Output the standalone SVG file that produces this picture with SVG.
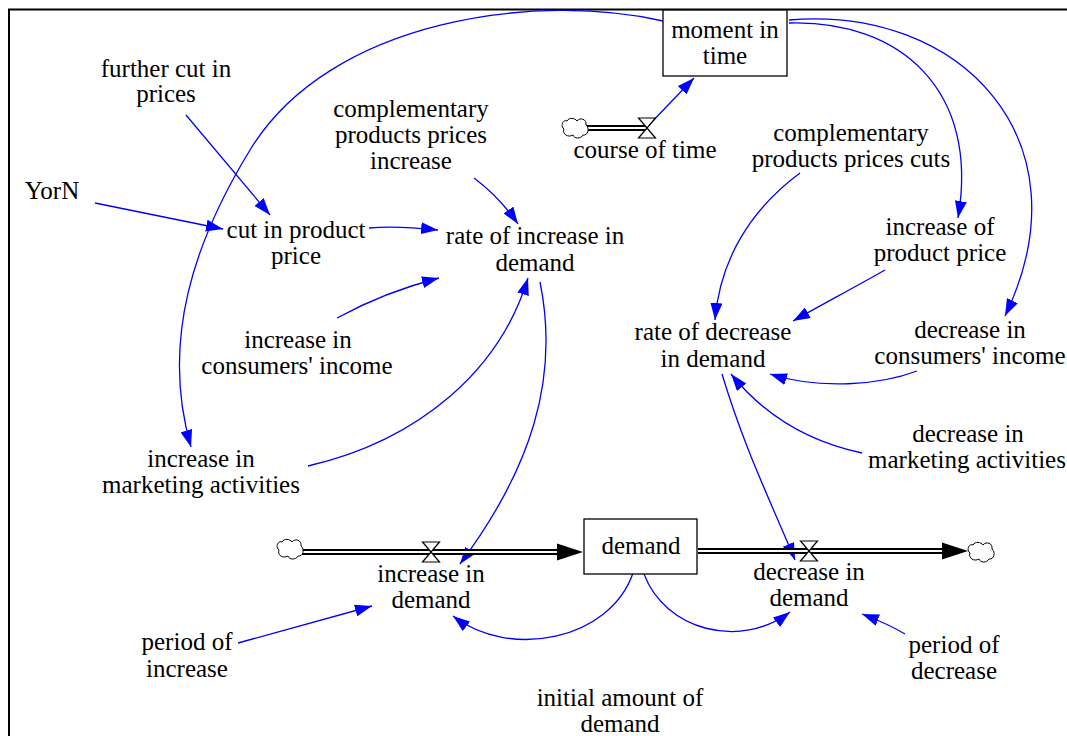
<svg xmlns="http://www.w3.org/2000/svg" width="1067" height="736" viewBox="0 0 1067 736">
<defs>
<style>
text{font-family:"Liberation Serif","Times New Roman",serif;font-size:25px;fill:#000;text-anchor:middle}
.c{fill:none;stroke:#0000FF;stroke-width:1.3;marker-end:url(#ah)}
.pipeO{stroke:#000;stroke-width:6;fill:none}
.pipeI{stroke:#fff;stroke-width:2;fill:none}
.box{fill:#fff;stroke:#000;stroke-width:1.3}
.valve{fill:#fff;stroke:#000;stroke-width:1.2}
.cloud{fill:#fff;stroke:#000;stroke-width:1}
</style>
<marker id="ah" markerUnits="userSpaceOnUse" markerWidth="17" markerHeight="12" viewBox="0 0 17 12" refX="17" refY="6" orient="auto"><path d="M0,0 L17,6 L0,12 z" fill="#0000FF"/></marker>
<marker id="fh" markerUnits="userSpaceOnUse" markerWidth="26" markerHeight="17" viewBox="0 0 26 17" refX="26" refY="8.5" orient="auto"><path d="M0,0 L26,8.5 L0,17 z" fill="#000"/></marker>
<symbol id="cloudSym" viewBox="-14 -11 28 22" width="28" height="22" overflow="visible">
<path class="cloud" d="M-8,-7 C-6,-11 0,-10 2,-7 C5,-11 12,-9 11,-3 C15,0 13,8 8,7 C6,11 -1,11 -2,7 C-7,10 -13,6 -11,1 C-15,-2 -12,-9 -8,-7 Z"/>
</symbol>
<path id="valveSym" class="valve" d="M-8.5,-10 H8.5 L-8.5,10 H8.5 Z"/>
</defs>
<rect x="0" y="0" width="1067" height="736" fill="#fff"/>
<path d="M9,736 V9.5 H1067" fill="none" stroke="#000" stroke-width="2"/>

<g id="connectors">
<path class="c" d="M663,21 C540,-8 330,18 250,150 C195,240 160,340 191,447"/>
<path class="c" d="M789,23 C900,20 980,90 958,218"/>
<path class="c" d="M789,20 C960,5 1090,140 1005,316"/>
<path class="c" d="M647,127 L694,78"/>
<path class="c" d="M186,115 L270,215"/>
<path class="c" d="M95,203 L223,229"/>
<path class="c" d="M474,178 C490,190 505,205 518,224"/>
<path class="c" d="M369,228 C390,226 410,227 438,230"/>
<path class="c" d="M337,318 C370,300 400,288 439,278"/>
<path class="c" d="M308,466 C420,440 500,370 528,278"/>
<path class="c" d="M540,282 C560,380 530,470 460,564"/>
<path class="c" d="M800,173 C750,210 720,260 715,320"/>
<path class="c" d="M885,270 C855,287 825,303 793,321"/>
<path class="c" d="M917,371 C880,385 820,390 770,374"/>
<path class="c" d="M862,453 C800,440 760,410 731,374"/>
<path class="c" d="M722,374 C745,450 770,500 795,560"/>
<path class="c" d="M633,573 C610,640 510,660 453,616"/>
<path class="c" d="M644,574 C665,630 740,650 790,612"/>
<path class="c" d="M238,643 L372,606"/>
<path class="c" d="M905,634 C890,625 875,619 862,614"/>
</g>

<g id="flow-course-of-time">
<path class="pipeO" d="M587,128 H646"/>
<path class="pipeI" d="M587,128 H646"/>
<use href="#cloudSym" x="561" y="117"/>
<use href="#valveSym" x="647" y="128"/>
<text x="645" y="158">course of time</text>
</g>

<g id="flow-increase-in-demand">
<path class="pipeO" d="M302,552 H560"/>
<path class="pipeI" d="M302,552 H560"/>
<path d="M557,543.5 L583,552 L557,560.5 z" fill="#000"/>
<use href="#cloudSym" x="276" y="538"/>
<use href="#valveSym" x="431" y="552"/>
<text x="431" y="582">increase in</text>
<text x="431" y="608">demand</text>
</g>

<g id="flow-decrease-in-demand">
<path class="pipeO" d="M698,551 H945"/>
<path class="pipeI" d="M698,551 H945"/>
<path d="M942,542.5 L968,551 L942,559.5 z" fill="#000"/>
<use href="#cloudSym" x="967" y="541"/>
<use href="#valveSym" x="809" y="551"/>
<text x="809" y="580">decrease in</text>
<text x="809" y="606">demand</text>
</g>

<g id="moment-in-time">
<rect class="box" x="663" y="10" width="124" height="66"/>
<text x="725" y="38">moment in</text>
<text x="725" y="64">time</text>
</g>

<g id="demand">
<rect class="box" x="584" y="519" width="113" height="55"/>
<text x="641" y="554">demand</text>
</g>

<g id="further-cut-in-prices">
<text x="166" y="77">further cut in</text>
<text x="166" y="102">prices</text>
</g>

<g id="complementary-products-prices-increase">
<text x="411" y="117">complementary</text>
<text x="411" y="143">products prices</text>
<text x="411" y="169">increase</text>
</g>

<g id="complementary-products-prices-cuts">
<text x="851" y="141">complementary</text>
<text x="851" y="167">products prices cuts</text>
</g>

<g id="yorn">
<text x="52" y="199">YorN</text>
</g>

<g id="cut-in-product-price">
<text x="296" y="238">cut in product</text>
<text x="296" y="264">price</text>
</g>

<g id="rate-of-increase-in-demand">
<text x="535" y="244">rate of increase in</text>
<text x="535" y="271">demand</text>
</g>

<g id="increase-of-product-price">
<text x="940" y="235">increase of</text>
<text x="940" y="261">product price</text>
</g>

<g id="rate-of-decrease-in-demand">
<text x="713" y="340">rate of decrease</text>
<text x="713" y="367">in demand</text>
</g>

<g id="decrease-in-consumers-income">
<text x="970" y="338">decrease in</text>
<text x="970" y="364">consumers' income</text>
</g>

<g id="increase-in-consumers-income">
<text x="298" y="348">increase in</text>
<text x="297" y="374">consumers' income</text>
</g>

<g id="decrease-in-marketing-activities">
<text x="968" y="442">decrease in</text>
<text x="967" y="468">marketing activities</text>
</g>

<g id="increase-in-marketing-activities">
<text x="201" y="467">increase in</text>
<text x="201" y="493">marketing activities</text>
</g>

<g id="period-of-increase">
<text x="187" y="650">period of</text>
<text x="187" y="677">increase</text>
</g>

<g id="period-of-decrease">
<text x="954" y="653">period of</text>
<text x="954" y="679">decrease</text>
</g>

<g id="initial-amount-of-demand">
<text x="620" y="706">initial amount of</text>
<text x="620" y="732">demand</text>
</g>
</svg>
